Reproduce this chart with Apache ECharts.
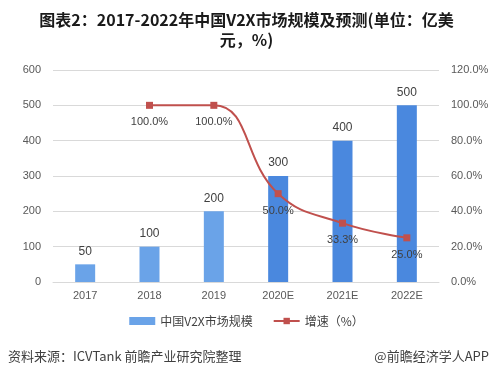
<!DOCTYPE html>
<html><head><meta charset="utf-8">
<script src="https://cdn.jsdelivr.net/npm/echarts@6/dist/echarts.min.js"></script>
<style>html,body{margin:0;padding:0;background:#fff;}#c{width:493px;height:382px;}</style>
</head><body><div id="c"></div>
<script>
const categories = ['2017','2018','2019','2020E','2021E','2022E'];
const marketSize = [50,100,200,300,400,500];
const growthRate = [null,100,100,50,33.3,25];
const leftTicks = [0,100,200,300,400,500,600];
const rightTicks = [0,20,40,60,80,100,120];

const lightBlue = '#6aa3e8', darkBlue = '#4a88de', red = '#c0504d';
const chart = echarts.init(document.getElementById('c'));
chart.setOption({
  animation:false,
  title:{text:'图表2：2017-2022年中国V2X市场规模及预测(单位：亿美\n元，%)',left:'center',top:5,
    textStyle:{fontSize:16,fontWeight:'bold',color:'#1a1a1a',lineHeight:20,fontFamily:'"Noto Sans CJK SC", sans-serif'}},
  grid:{left:53,right:54,top:70,bottom:100},
  legend:{bottom:50,left:'center',itemGap:20,itemWidth:26,itemHeight:8,
    textStyle:{fontSize:12,color:'#404040',fontFamily:'"Noto Sans CJK SC", sans-serif'},
    data:[{name:'中国V2X市场规模',icon:'rect',itemStyle:{color:lightBlue}},{name:'增速（%）'}]},
  xAxis:{type:'category',data:categories,axisTick:{show:false},
    axisLine:{lineStyle:{color:'#d9d9d9'}},
    axisLabel:{color:'#595959',fontSize:11,margin:8}},
  yAxis:[
    {type:'value',min:leftTicks[0],max:leftTicks[leftTicks.length-1],interval:100,
     axisLabel:{color:'#595959',fontSize:11,margin:12},
     splitLine:{lineStyle:{color:'#d9d9d9'}},axisLine:{show:false}},
    {type:'value',min:rightTicks[0],max:rightTicks[rightTicks.length-1],interval:20,
     axisLabel:{color:'#595959',fontSize:11,margin:12,formatter:v=>v.toFixed(1)+'%'},
     splitLine:{show:false},axisLine:{show:false}}
  ],
  series:[
    {name:'中国V2X市场规模',type:'bar',barWidth:20,
     data:marketSize.map((v,i)=>({value:v,itemStyle:{color:i<3?lightBlue:darkBlue}})),
     label:{show:true,position:'top',distance:7,color:'#404040',fontSize:12}},
    {name:'增速（%）',type:'line',yAxisIndex:1,smooth:0.45,data:growthRate,
     symbol:'rect',symbolSize:7,lineStyle:{color:red,width:2},itemStyle:{color:red},
     label:{show:true,position:'bottom',distance:8,color:'#404040',fontSize:11,
       formatter:p=>p.value.toFixed(1)+'%'}}
  ],
  graphic:[
    {type:'text',left:8,top:350,style:{text:'资料来源：ICVTank 前瞻产业研究院整理',fontSize:13,fill:'#404040',fontFamily:'"Noto Sans CJK SC", sans-serif'}},
    {type:'text',right:4,top:350,style:{text:'@前瞻经济学人APP',fontSize:13,fill:'#404040',fontFamily:'"Noto Sans CJK SC", sans-serif'}}
  ]
});
</script></body></html>
